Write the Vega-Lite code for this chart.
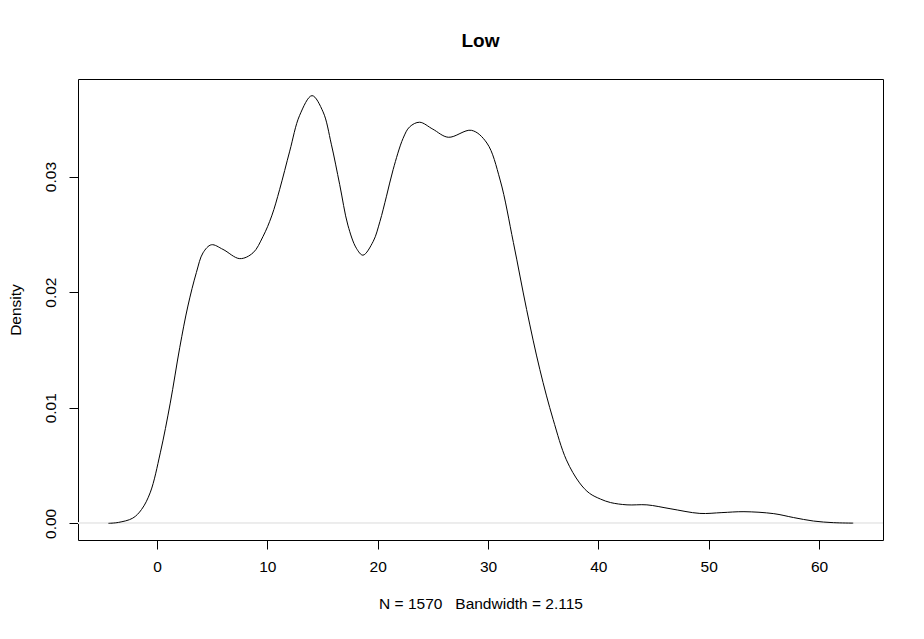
{
  "$schema": "https://vega.github.io/schema/vega-lite/v6.json",
  "width": 805,
  "height": 461,
  "autosize": {"type": "none"},
  "padding": {"left": 78, "top": 79, "right": 41, "bottom": 99},
  "background": "white",
  "title": {
    "text": "Low",
    "font": "Liberation Sans",
    "fontSize": 19,
    "fontWeight": "bold",
    "color": "black",
    "anchor": "middle",
    "offset": 28
  },
  "config": {
    "view": {"stroke": "black", "strokeWidth": 1},
    "axis": {
      "labelFont": "Liberation Sans",
      "titleFont": "Liberation Sans",
      "labelFontSize": 15.5,
      "titleFontSize": 15.5,
      "labelColor": "black",
      "titleColor": "black",
      "titleFontWeight": "normal",
      "tickColor": "black",
      "tickSize": 9,
      "domain": false,
      "grid": false
    }
  },
  "data": {
    "values": [
      {"x": -4.4, "density": 0.0},
      {"x": -3.5, "density": 0.00008},
      {"x": -2.2, "density": 0.00045},
      {"x": -1.4, "density": 0.0012},
      {"x": -0.6, "density": 0.0027},
      {"x": 0.3, "density": 0.0061},
      {"x": 1.2, "density": 0.0104},
      {"x": 2.06, "density": 0.0152},
      {"x": 2.8, "density": 0.0188},
      {"x": 3.57, "density": 0.0217},
      {"x": 4.17, "density": 0.0234},
      {"x": 4.93, "density": 0.0241},
      {"x": 5.98, "density": 0.0237},
      {"x": 7.5, "density": 0.0229},
      {"x": 8.7, "density": 0.0234},
      {"x": 9.6, "density": 0.0248},
      {"x": 10.4, "density": 0.0266},
      {"x": 11.12, "density": 0.0289},
      {"x": 12.03, "density": 0.0322},
      {"x": 12.93, "density": 0.0353},
      {"x": 14.05, "density": 0.037},
      {"x": 15.05, "density": 0.0356},
      {"x": 15.8, "density": 0.0328},
      {"x": 16.56, "density": 0.0293},
      {"x": 17.3, "density": 0.0258},
      {"x": 18.07, "density": 0.0238},
      {"x": 18.67, "density": 0.0232},
      {"x": 19.6, "density": 0.0244},
      {"x": 20.2, "density": 0.0261},
      {"x": 20.8, "density": 0.0283},
      {"x": 21.4, "density": 0.0306},
      {"x": 22.3, "density": 0.0333},
      {"x": 22.9, "density": 0.0343},
      {"x": 23.8, "density": 0.0347},
      {"x": 25.0, "density": 0.0341},
      {"x": 26.4, "density": 0.0334},
      {"x": 28.5, "density": 0.034},
      {"x": 29.9, "density": 0.0329},
      {"x": 31.1, "density": 0.0297},
      {"x": 32.3, "density": 0.0243},
      {"x": 33.5, "density": 0.0185},
      {"x": 34.7, "density": 0.0133},
      {"x": 35.9, "density": 0.009},
      {"x": 37.1, "density": 0.0055},
      {"x": 38.3, "density": 0.0035},
      {"x": 39.2, "density": 0.0026},
      {"x": 40.2, "density": 0.0021},
      {"x": 41.1, "density": 0.0018},
      {"x": 42.6, "density": 0.0016},
      {"x": 44.4, "density": 0.0016},
      {"x": 46.5, "density": 0.00127},
      {"x": 49.2, "density": 0.00086},
      {"x": 51.2, "density": 0.00093},
      {"x": 53.2, "density": 0.00101},
      {"x": 55.9, "density": 0.00084},
      {"x": 57.7, "density": 0.0005},
      {"x": 59.5, "density": 0.0002},
      {"x": 61.3, "density": 0.00006},
      {"x": 63.1, "density": 0.00002}
    ]
  },
  "encoding": {
    "x": {
      "field": "x",
      "type": "quantitative",
      "scale": {"domain": [-7.16, 65.8], "nice": false, "zero": false},
      "axis": {
        "values": [0, 10, 20, 30, 40, 50, 60],
        "title": "N = 1570\u00a0\u00a0\u00a0Bandwidth = 2.115",
        "labelPadding": 10,
        "titlePadding": 22
      }
    },
    "y": {
      "field": "density",
      "type": "quantitative",
      "scale": {"domain": [-0.00144, 0.03844], "nice": false, "zero": false},
      "axis": {
        "values": [0, 0.01, 0.02, 0.03],
        "format": ".2f",
        "title": "Density",
        "labelAngle": -90,
        "labelAlign": "center",
        "labelBaseline": "bottom",
        "labelPadding": 11,
        "titlePadding": 20
      }
    }
  },
  "layer": [
    {
      "mark": {"type": "rule", "color": "#ececec", "strokeWidth": 1},
      "encoding": {"y": {"datum": 0}, "x": {}}
    },
    {
      "mark": {"type": "line", "color": "black", "strokeWidth": 1, "interpolate": "catmull-rom"}
    }
  ]
}
